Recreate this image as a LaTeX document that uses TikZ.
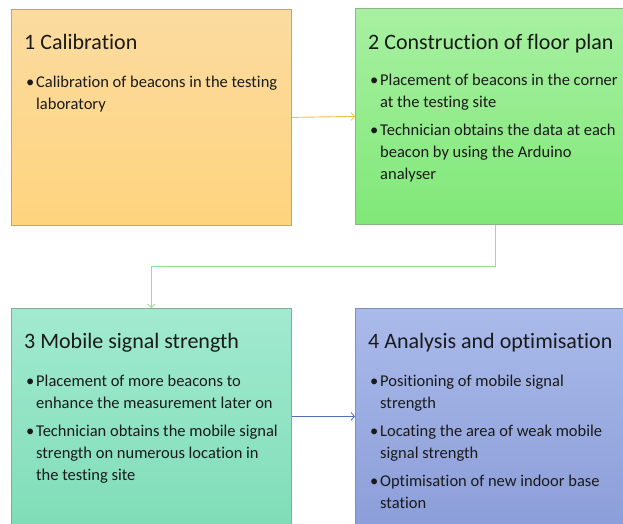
\documentclass[tikz,border=0pt]{standalone}
\usepackage{fontspec}
\setmainfont{Carlito}[Ligatures=NoCommon]
\usetikzlibrary{arrows.meta}
\definecolor{oTop}{HTML}{FBDBA0}
\definecolor{oBot}{HTML}{FFD47E}
\definecolor{oLine}{HTML}{BFA577}
\definecolor{gTop}{HTML}{A8F0A2}
\definecolor{gBot}{HTML}{80E878}
\definecolor{gLine}{HTML}{8BB585}
\definecolor{mTop}{HTML}{A2EAD0}
\definecolor{mBot}{HTML}{80DDB8}
\definecolor{mLine}{HTML}{88AA9E}
\definecolor{bTop}{HTML}{AABAEA}
\definecolor{bBot}{HTML}{8C9ED9}
\definecolor{bLine}{HTML}{8090B0}
\definecolor{txt}{HTML}{1A1A1A}
\definecolor{c1}{HTML}{F5C050}
\definecolor{c2}{HTML}{8EE58E}
\definecolor{c3}{HTML}{4F6FB8}
\begin{document}
\begin{tikzpicture}[x=1pt,y=-1pt,
  box/.style={draw, line width=0.8pt, minimum width=280pt, minimum height=216pt, inner sep=0pt, anchor=north west},
  title/.style={anchor=base west, inner sep=0pt, text=txt, font=\fontsize{22pt}{26pt}\selectfont},
  bitem/.style={anchor=base west, inner sep=0pt, text=txt, align=left, font=\fontsize{16.5pt}{22pt}\selectfont},
  conn/.style={line width=0.9pt, -{Straight Barb[length=3.5pt,width=8pt,line width=0.8pt]}}
]
\clip (0,0) rectangle (623,523);
\fill[white] (0,0) rectangle (623,523);
% boxes
\node[box, draw=oLine, top color=oTop, bottom color=oBot] (b1) at (11,9) {};
\node[box, draw=gLine, top color=gTop, bottom color=gBot] (b2) at (355,8) {};
\node[box, draw=mLine, top color=mTop, bottom color=mBot] (b3) at (11,308) {};
\node[box, draw=bLine, top color=bTop, bottom color=bBot] (b4) at (355,308) {};
% connectors
\draw[conn, c1] (b1.east) -- (b2.west);
\draw[conn, c2] (b2.south) -- ++(0,42) -| (b3.north);
\draw[conn, c3] (b3.east) -- (b4.west);
% box 1
\node[title] (h1) at (24,49) {1 Calibration};
\node[bitem] (t1a) at (26,109) {\makebox[10pt][l]{\textbullet}Calibration of beacons in the testing\\\hspace*{10pt}laboratory};
% box 2
\node[title] (h2) at (368,49) {2 Construction of floor plan};
\node[bitem] (t2a) at (370,107) {\makebox[10pt][l]{\textbullet}Placement of beacons in the corner\\\hspace*{10pt}at the testing site};
\node[bitem] (t2b) at (370,179) {\makebox[10pt][l]{\textbullet}Technician obtains the data at each\\\hspace*{10pt}beacon by using the Arduino\\\hspace*{10pt}analyser};
% box 3
\node[title] (h3) at (24,348) {3 Mobile signal strength};
\node[bitem] (t3a) at (26,408) {\makebox[10pt][l]{\textbullet}Placement of more beacons to\\\hspace*{10pt}enhance the measurement later on};
\node[bitem] (t3b) at (26,480) {\makebox[10pt][l]{\textbullet}Technician obtains the mobile signal\\\hspace*{10pt}strength on numerous location in\\\hspace*{10pt}the testing site};
% box 4
\node[title] (h4) at (368,348) {4 Analysis and optimisation};
\node[bitem] (t4a) at (370,408) {\makebox[10pt][l]{\textbullet}Positioning of mobile signal\\\hspace*{10pt}strength};
\node[bitem] (t4b) at (370,458) {\makebox[10pt][l]{\textbullet}Locating the area of weak mobile\\\hspace*{10pt}signal strength};
\node[bitem] (t4c) at (370,508) {\makebox[10pt][l]{\textbullet}Optimisation of new indoor base\\\hspace*{10pt}station};
\end{tikzpicture}
\end{document}
